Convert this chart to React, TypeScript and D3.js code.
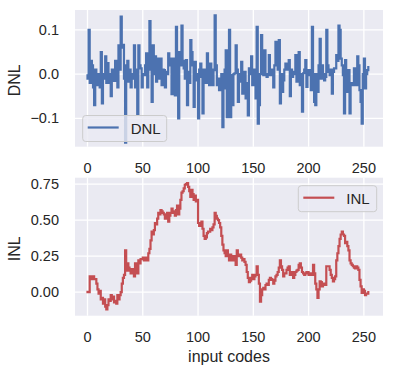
import React from "react";
import * as d3 from "d3";

// DNL per input code (0..255)
const dnl = [
  0.0, -0.01, 0.1, -0.02, 0.03, 0.02, -0.03, -0.07, 0.01, -0.02, -0.025, 0.0, -0.03, 0.05, -0.066, 0.0,
  -0.01, 0.04, -0.02, 0.025, 0.0, -0.02, -0.05, 0.01, -0.01, -0.015, 0.03, -0.005, -0.03, 0.065, 0.01, 0.13,
  0.06, 0.066, -0.01, -0.155, 0.02, 0.03, -0.017, 0.01, -0.03, 0.0, -0.01, 0.065, -0.03, 0.01, -0.09, 0.065,
  0.02, 0.013, -0.03, 0.0, -0.002, 0.02, 0.047, -0.03, 0.01, 0.12, 0.02, -0.063, 0.065, 0.0, 0.04, -0.017,
  0.035, 0.0, -0.01, 0.035, -0.025, 0.01, 0.009, -0.03, 0.005, 0.0, 0.047, 0.02, 0.035, -0.045, 0.01, 0.035,
  -0.048, 0.107, 0.0, -0.1, 0.05, 0.02, 0.11, 0.03, 0.013, -0.01, 0.032, -0.07, 0.005, -0.02, 0.077, 0.05,
  0.02, -0.074, 0.028, 0.0, -0.014, -0.1, 0.01, 0.024, -0.006, -0.089, 0.01, 0.005, -0.02, 0.047, 0.0, -0.025,
  0.024, 0.01, -0.025, 0.009, 0.133, 0.02, -0.025, -0.01, -0.036, -0.01, 0.0, -0.12, -0.032, 0.01, 0.054, -0.097,
  0.02, 0.1, -0.097, -0.002, -0.07, 0.0, 0.002, 0.065, 0.01, -0.063, -0.017, 0.0, 0.028, -0.044, 0.0, 0.005,
  -0.055, -0.02, -0.093, 0.013, 0.0, 0.04, -0.025, 0.005, 0.01, -0.055, 0.107, -0.112, -0.07, 0.0, 0.088, 0.01,
  -0.002, 0.054, 0.0, -0.006, -0.002, 0.043, 0.0, -0.002, 0.01, -0.03, 0.02, 0.073, 0.02, 0.01, 0.077, -0.066,
  0.0, -0.04, -0.014, 0.01, 0.024, 0.02, 0.01, 0.032, -0.05, 0.01, -0.006, 0.0, 0.005, 0.043, -0.017, 0.01,
  0.05, -0.025, 0.0, -0.085, 0.002, 0.01, 0.032, -0.029, 0.0, 0.009, -0.002, -0.036, 0.107, 0.0, -0.063, -0.07,
  0.0, -0.04, 0.02, 0.08, -0.01, 0.02, 0.0, -0.014, -0.006, 0.1, 0.02, 0.005, -0.002, 0.01, -0.044, 0.005,
  0.013, 0.013, 0.043, 0.03, 0.11, 0.1, 0.035, 0.02, -0.002, -0.089, 0.032, -0.01, -0.04, 0.009, -0.089, -0.02,
  -0.025, -0.025, 0.013, -0.02, -0.025, 0.04, 0.02, -0.036, -0.063, -0.112, 0.0, 0.035, -0.032, 0.0, 0.009, 0.016,
];

// INL per input code
const inl = [
  0.01, 0.0, 0.0, 0.11, 0.09, 0.1, 0.11, 0.09, 0.09, 0.06, 0.02, -0.01, 0.01, -0.05, -0.04, -0.08,
  -0.05, -0.1, -0.12, -0.09, -0.05, -0.06, -0.02, -0.05, -0.03, -0.07, -0.06, -0.08, -0.02, -0.05, -0.02, 0.0,
  0.06, 0.1, 0.12, 0.29, 0.15, 0.2, 0.17, 0.15, 0.13, 0.16, 0.14, 0.11, 0.2, 0.17, 0.13, 0.22,
  0.2, 0.23, 0.23, 0.24, 0.22, 0.23, 0.24, 0.22, 0.27, 0.3, 0.36, 0.42, 0.4, 0.43, 0.48, 0.47,
  0.51, 0.55, 0.54, 0.57, 0.56, 0.55, 0.54, 0.51, 0.53, 0.55, 0.49, 0.53, 0.55, 0.58, 0.56, 0.55,
  0.53, 0.57, 0.6, 0.54, 0.58, 0.64, 0.69, 0.7, 0.72, 0.745, 0.75, 0.757, 0.73, 0.7, 0.66, 0.71,
  0.68, 0.64, 0.67, 0.63, 0.64, 0.48, 0.46, 0.47, 0.49, 0.44, 0.39, 0.37, 0.38, 0.41, 0.42, 0.42,
  0.44, 0.43, 0.45, 0.47, 0.55, 0.53, 0.51, 0.5, 0.48, 0.45, 0.39, 0.33, 0.29, 0.27, 0.25, 0.29,
  0.26, 0.22, 0.26, 0.24, 0.22, 0.25, 0.23, 0.19, 0.29, 0.26, 0.25, 0.26, 0.24, 0.22, 0.23, 0.21,
  0.19, 0.14, 0.1, 0.07, 0.08, 0.1, 0.12, 0.09, 0.11, 0.12, 0.18, 0.12, 0.06, -0.065, -0.02, 0.02,
  0.03, 0.02, 0.05, 0.06, 0.05, 0.085, 0.1, 0.09, 0.085, 0.06, 0.08, 0.11, 0.12, 0.14, 0.17, 0.22,
  0.18, 0.155, 0.11, 0.13, 0.13, 0.155, 0.17, 0.18, 0.12, 0.14, 0.14, 0.1, 0.12, 0.14, 0.15, 0.155,
  0.19, 0.2, 0.17, 0.14, 0.13, 0.12, 0.13, 0.14, 0.14, 0.12, 0.13, 0.12, 0.12, 0.19, 0.13, 0.06,
  0.02, -0.04, 0.02, 0.075, 0.07, 0.04, 0.06, 0.05, 0.05, 0.18, 0.18, 0.18, 0.155, 0.12, 0.1, 0.075,
  0.09, 0.11, 0.22, 0.27, 0.32, 0.37, 0.4, 0.42, 0.4, 0.39, 0.34, 0.35, 0.32, 0.29, 0.22, 0.2,
  0.19, 0.18, 0.17, 0.165, 0.18, 0.17, 0.155, 0.085, 0.04, -0.005, 0.02, 0.01, -0.02, -0.01, -0.01, 0.0,
];

const xTicks = [0, 50, 100, 150, 200, 250];
const dnlTicks = [-0.1, 0.0, 0.1];
const inlTicks = [0.0, 0.25, 0.5, 0.75];

const font = "'Liberation Sans', Arial, sans-serif";
const ink = "#262626";
const bg = "#eaeaf2";

const x = d3.scaleLinear().domain([-11.3, 267.3]).range([75, 383]);

function fmt(v: number, digits: number) {
  return v.toFixed(digits).replace("-", "\u2212");
}

function Panel({ values, top, bottom, domain, ticks, digits, color, label, legend }: any) {
  const y = d3.scaleLinear().domain(domain).range([bottom, top]);
  const line = d3
    .line<number>()
    .x((_, i) => x(i))
    .y((d) => y(d))
    .curve(d3.curveStepBefore);
  const [x0, x1] = x.range();
  return (
    <g>
      <rect x={x0} y={top} width={x1 - x0} height={bottom - top} fill={bg} />
      {xTicks.map((t) => (
        <line key={"vx" + t} x1={x(t)} x2={x(t)} y1={top} y2={bottom} stroke="white" strokeWidth={1.3} />
      ))}
      {ticks.map((t: number) => (
        <g key={"hy" + t}>
          <line x1={x0} x2={x1} y1={y(t)} y2={y(t)} stroke="white" strokeWidth={1.3} />
          <text x={59} y={y(t) + 5} textAnchor="end" fontSize={14.5} fill={ink} fontFamily={font}>
            {fmt(t, digits)}
          </text>
        </g>
      ))}
      <path d={line(values) || ""} fill="none" stroke={color} strokeWidth={2.2} strokeLinejoin="miter" />
      {xTicks.map((t) => (
        <text key={"xt" + t} x={x(t)} y={bottom + 26.5} textAnchor="middle" fontSize={14.5} fill={ink} fontFamily={font}>
          {t}
        </text>
      ))}
      <text
        transform={`translate(20,${(top + bottom) / 2 + 2}) rotate(-90)`}
        textAnchor="middle"
        fontSize={16}
        fill={ink}
        fontFamily={font}
      >
        {label}
      </text>
      <g>
        <rect
          x={legend.x}
          y={legend.y}
          width={legend.w}
          height={26}
          rx={3}
          fill={bg}
          fillOpacity={0.8}
          stroke="#cccccc"
          strokeWidth={1}
        />
        <line x1={legend.x + 5} x2={legend.x + 36} y1={legend.y + 12} y2={legend.y + 12} stroke={color} strokeWidth={2.2} />
        <text x={legend.x + 48} y={legend.y + 18} fontSize={15} fill={ink} fontFamily={font}>
          {label}
        </text>
      </g>
    </g>
  );
}

export default function App() {
  return (
    <svg
      width={393}
      height={375}
      style={{ position: "absolute", left: 0, top: 0, background: "white" }}
    >
      <Panel
        values={dnl}
        top={10}
        bottom={146.7}
        domain={[-0.164, 0.145]}
        ticks={dnlTicks}
        digits={1}
        color="#4c72b0"
        label="DNL"
        legend={{ x: 82.7, y: 115.5, w: 84 }}
      />
      <Panel
        values={inl}
        top={177.7}
        bottom={315.7}
        domain={[-0.163, 0.794]}
        ticks={inlTicks}
        digits={2}
        color="#c44e52"
        label="INL"
        legend={{ x: 298.3, y: 185.7, w: 78.4 }}
      />
      <text x={229} y={362} textAnchor="middle" fontSize={16} fill={ink} fontFamily={font}>
        input codes
      </text>
    </svg>
  );
}
